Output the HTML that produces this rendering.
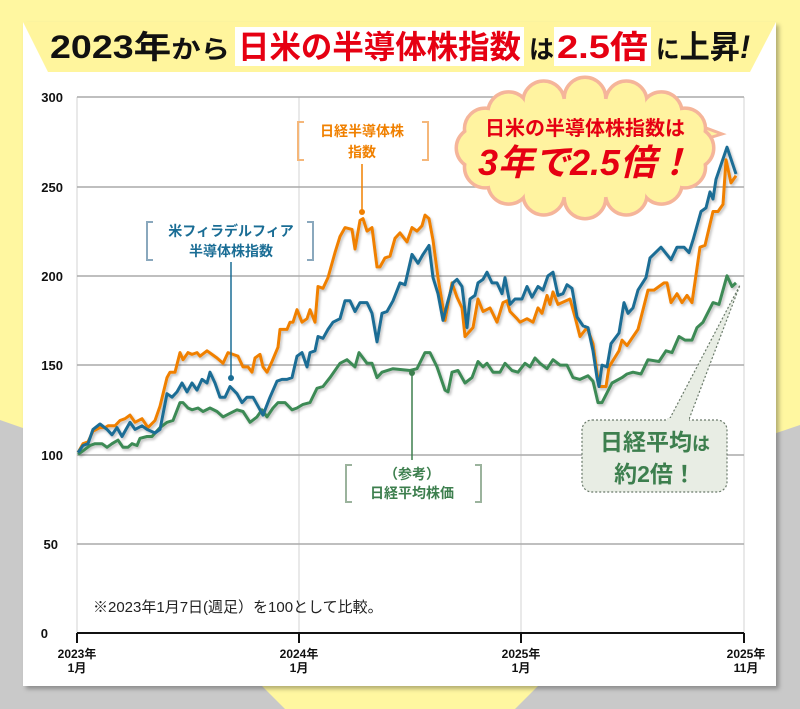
<!DOCTYPE html>
<html><head><meta charset="utf-8">
<style>
body{margin:0;width:800px;height:709px;overflow:hidden;background:#c9c9c9;font-family:"Liberation Sans","Noto Sans CJK JP",sans-serif;}
svg{position:absolute;left:0;top:0}
</style></head><body>
<svg width="800" height="709" viewBox="0 0 800 709" xmlns="http://www.w3.org/2000/svg">
<defs>
<filter id="sh" x="-5%" y="-5%" width="110%" height="110%"><feDropShadow dx="1.5" dy="2" stdDeviation="1.2" flood-color="#000" flood-opacity="0.25"/></filter>
<filter id="csh"><feDropShadow dx="3" dy="3" stdDeviation="2" flood-color="#000" flood-opacity="0.3"/></filter>
</defs>
<polygon points="0,0 800,0 800,425 400,560 0,420" fill="#fff7a0"/>
<polygon points="262,686 538,686 515,709 285,709" fill="#fff7a0"/>
<rect x="23" y="22" width="753" height="664" fill="#fff" filter="url(#csh)"/>
<polygon points="23,22 776,22 750,72 48,72" fill="#fff59d"/>
<!-- title -->
<rect x="235" y="27" width="289" height="39" fill="#fff"/>
<rect x="554" y="27" width="97" height="39" fill="#fff"/>
<g font-weight="bold" font-size="32">
<text x="50" y="58" fill="#111" textLength="180" lengthAdjust="spacingAndGlyphs">2023年<tspan font-size="25">から</tspan></text>
<text x="238" y="58" fill="#e60012" textLength="283" lengthAdjust="spacingAndGlyphs">日米の半導体株指数</text>
<text x="529" y="58" fill="#111" font-size="25">は</text>
<text x="557" y="58" fill="#e60012" textLength="91" lengthAdjust="spacingAndGlyphs">2.5倍</text>
<text x="656" y="58" fill="#111" textLength="94" lengthAdjust="spacingAndGlyphs"><tspan font-size="25">に</tspan>上昇<tspan font-style="italic">!</tspan></text>
</g>
<!-- grid -->
<g stroke="#e2e2e2" stroke-width="1.5">
<line x1="299" y1="97" x2="299" y2="633"/><line x1="521" y1="97" x2="521" y2="633"/><line x1="744" y1="97" x2="744" y2="633"/><line x1="77" y1="97" x2="77" y2="633"/>
</g>
<g stroke="#aaa" stroke-width="1.5">
<line x1="77" y1="97" x2="744" y2="97"/><line x1="77" y1="187" x2="744" y2="187"/><line x1="77" y1="276" x2="744" y2="276"/><line x1="77" y1="365" x2="744" y2="365"/><line x1="77" y1="455" x2="744" y2="455"/><line x1="77" y1="544" x2="744" y2="544"/>
</g>
<g stroke="#111" stroke-width="2"><line x1="77" y1="633" x2="744" y2="633"/><line x1="77" y1="633" x2="77" y2="643"/><line x1="299" y1="633" x2="299" y2="643"/><line x1="521" y1="633" x2="521" y2="643"/><line x1="744" y1="633" x2="744" y2="643"/></g>
<g font-size="13" font-weight="bold" fill="#111" text-anchor="end">
<text x="63" y="102">300</text><text x="63" y="192">250</text><text x="63" y="281">200</text><text x="63" y="370">150</text><text x="63" y="460">100</text><text x="58" y="549">50</text><text x="48" y="638">0</text>
</g>
<g font-size="12" font-weight="bold" fill="#111" text-anchor="middle">
<text x="77" y="658">2023年</text><text x="77" y="672">1月</text>
<text x="299" y="658">2024年</text><text x="299" y="672">1月</text>
<text x="521" y="658">2025年</text><text x="521" y="672">1月</text>
<text x="746" y="658">2025年</text><text x="746" y="672">11月</text>
</g>
<text x="93" y="612" font-size="15" fill="#222">※2023年1月7日(週足）を100として比較。</text>
<g id="series" fill="none" stroke-width="3" stroke-linejoin="round" filter="url(#sh)"></g>
<!-- labels -->
<g fill="none" stroke="#f5b77a" stroke-width="2"><path d="M304,122 h-6 v38 h6"/><path d="M422,122 h6 v38 h-6"/></g>
<g font-size="14" font-weight="bold" fill="#f08000" text-anchor="middle"><text x="362" y="136">日経半導体株</text><text x="362" y="157">指数</text></g>
<line x1="362" y1="164" x2="362" y2="212" stroke="#f08000" stroke-width="1.5"/><circle cx="362" cy="212" r="3" fill="#f08000"/>
<g fill="none" stroke="#8aa8bd" stroke-width="2"><path d="M153,222 h-6 v38 h6"/><path d="M307,222 h6 v38 h-6"/></g>
<g font-size="14" font-weight="bold" fill="#1a6d95" text-anchor="middle"><text x="231" y="236">米フィラデルフィア</text><text x="231" y="256">半導体株指数</text></g>
<line x1="231" y1="262" x2="231" y2="378" stroke="#1a6d95" stroke-width="1.5"/><circle cx="231" cy="378" r="3" fill="#1a6d95"/>
<g fill="none" stroke="#9bb39d" stroke-width="2"><path d="M352,465 h-6 v37 h6"/><path d="M475,465 h6 v37 h-6"/></g>
<g font-size="14" font-weight="bold" fill="#3d7f4e" text-anchor="middle"><text x="412" y="479">（参考）</text><text x="412" y="498">日経平均株価</text></g>
<line x1="412" y1="373" x2="412" y2="460" stroke="#3d7f4e" stroke-width="1.5"/><circle cx="412" cy="373" r="3" fill="#3d7f4e"/>
<!-- green callout -->
<polygon points="668,422 740,285 688,422" fill="#e8ede4" stroke="#6a7a6a" stroke-width="1.2" stroke-dasharray="2,2"/>
<rect x="582" y="420" width="145" height="72" rx="10" fill="#e8ede4" stroke="#6a7a6a" stroke-width="1.2" stroke-dasharray="2,2"/>
<rect x="667" y="418" width="22" height="5" fill="#e8ede4"/>
<g font-size="23" font-weight="bold" fill="#3d7f4e" text-anchor="middle"><text x="655" y="450">日経平均<tspan font-size="18">は</tspan></text><text x="655" y="482">約2倍！</text></g>
<!-- cloud -->
<g id="cloud"></g>
<g font-weight="bold" fill="#e60012" text-anchor="middle">
<text x="585" y="135" font-size="20">日米の半導体株指数は</text>
<text x="585" y="175" font-size="36" font-style="italic">3年で2.5倍！</text>
</g>
</svg>
<script>
const X=v=>v, Y=v=>633-v*1.786;
const data={
"#3d8a55":[[78,100],[83,102],[90,105],[95,106],[102,106],[107,104],[112,106],[118,108],[123,104],[128,104],[132,106],[137,105],[140,109],[147,110],[152,110],[155,112],[160,115],[167,118],[173,119],[180,129],[183,129],[188,126],[192,125],[198,126],[203,124],[210,126],[217,124],[223,121],[230,123],[237,125],[243,124],[250,118],[257,121],[262,125],[267,121],[273,126],[278,129],[285,129],[292,125],[297,126],[303,128],[310,129],[317,137],[323,138],[330,143],[340,151],[347,153],[355,149],[359,157],[367,151],[372,151],[377,143],[382,146],[393,148],[410,147],[417,148],[425,157],[430,157],[437,149],[445,136],[448,135],[452,146],[458,147],[465,140],[472,143],[478,152],[483,149],[487,151],[493,146],[500,146],[505,151],[512,147],[518,146],[525,151],[530,149],[535,154],[540,151],[547,148],[553,153],[560,150],[567,150],[573,143],[580,142],[588,144],[593,141],[598,129],[602,129],[612,140],[622,143],[627,145],[633,146],[641,145],[648,153],[659,152],[666,158],[672,157],[679,166],[685,164],[692,164],[697,171],[703,174],[713,185],[719,184],[727,200],[732,194],[736,196]],
"#f08000":[[78,101],[83,106],[88,107],[93,113],[100,115],[105,115],[108,116],[115,116],[120,119],[125,120],[130,122],[135,118],[142,120],[148,115],[155,119],[160,127],[167,143],[170,146],[175,146],[180,157],[183,153],[188,157],[192,156],[197,157],[200,155],[207,158],[212,156],[217,154],[223,151],[228,157],[233,156],[238,155],[243,149],[248,149],[252,146],[255,154],[260,156],[263,149],[267,146],[272,152],[278,160],[280,170],[287,170],[290,174],[293,174],[297,181],[302,174],[307,176],[310,181],[315,174],[318,194],[323,193],[328,199],[335,213],[340,222],[345,227],[352,226],[355,215],[360,231],[363,232],[367,225],[372,227],[377,205],[380,205],[385,210],[390,211],[395,221],[400,224],[407,219],[412,227],[417,225],[422,228],[425,234],[429,232],[433,220],[438,199],[445,175],[452,196],[457,188],[462,182],[465,166],[473,171],[478,187],[483,180],[490,182],[497,174],[503,185],[507,186],[510,180],[517,176],[520,174],[527,176],[533,174],[538,182],[542,179],[547,189],[550,184],[553,191],[558,184],[570,187],[575,177],[580,166],[587,171],[593,162],[599,138],[606,138],[609,149],[619,158],[622,164],[627,161],[638,170],[648,192],[654,192],[664,196],[667,196],[671,185],[677,190],[682,185],[687,189],[692,185],[700,216],[705,217],[713,236],[718,236],[723,240],[726,265],[731,252],[736,256]],
"#1a6d95":[[78,101],[83,105],[88,106],[93,114],[100,117],[107,114],[112,111],[117,115],[122,110],[127,115],[130,118],[135,114],[142,116],[147,114],[155,112],[160,114],[167,134],[172,132],[177,135],[182,140],[187,135],[192,140],[197,136],[202,142],[207,140],[210,146],[215,140],[220,132],[225,132],[230,138],[237,134],[242,129],[247,132],[253,132],[258,127],[263,122],[270,132],[277,141],[282,142],[287,142],[292,143],[297,155],[302,157],[307,149],[310,157],[315,158],[318,166],[323,165],[328,170],[333,174],[340,176],[345,186],[350,186],[355,180],[360,185],[367,185],[372,179],[377,163],[382,179],[387,180],[393,186],[400,196],[405,195],[412,212],[418,207],[423,212],[429,217],[433,199],[438,190],[443,175],[448,186],[453,196],[457,198],[462,194],[467,171],[470,187],[475,189],[478,196],[483,198],[487,202],[492,196],[497,196],[502,190],[505,199],[510,184],[515,187],[522,187],[527,194],[532,188],[538,194],[543,192],[548,200],[553,202],[558,189],[563,190],[567,195],[572,193],[577,177],[583,172],[588,171],[593,158],[597,143],[599,138],[602,150],[607,149],[611,162],[619,168],[624,185],[628,179],[633,182],[638,192],[646,199],[650,210],[661,216],[671,209],[677,216],[684,216],[689,213],[693,220],[701,236],[706,238],[710,247],[713,243],[716,254],[727,272],[736,257]]
};
let g=document.getElementById('series'),h='';
for(const c in data){h+=`<polyline stroke="${c}" points="${data[c].map(p=>X(p[0])+','+Y(p[1]).toFixed(1)).join(' ')}"/>`;}
g.innerHTML=h;
const cx=585,cy=148,rx=108,ry=50,n=16;let cs=[];
for(let i=0;i<n;i++){const a=i/n*2*Math.PI;cs.push([cx+rx*Math.cos(a),cy+ry*Math.sin(a)]);}
let ch='<path d="M698,125 L722,134 L702,140 Z" fill="#fff3a0" stroke="#f5b59a" stroke-width="3"/>';
cs.forEach(p=>ch+=`<circle cx="${p[0]}" cy="${p[1]}" r="20" fill="#fff3a0" stroke="#f5b59a" stroke-width="5"/>`);
ch+=`<ellipse cx="${cx}" cy="${cy}" rx="${rx}" ry="${ry}" fill="#fff3a0"/>`;
cs.forEach(p=>ch+=`<circle cx="${p[0]}" cy="${p[1]}" r="19" fill="#fff3a0"/>`);
document.getElementById('cloud').innerHTML=ch;
</script>
</body></html>
